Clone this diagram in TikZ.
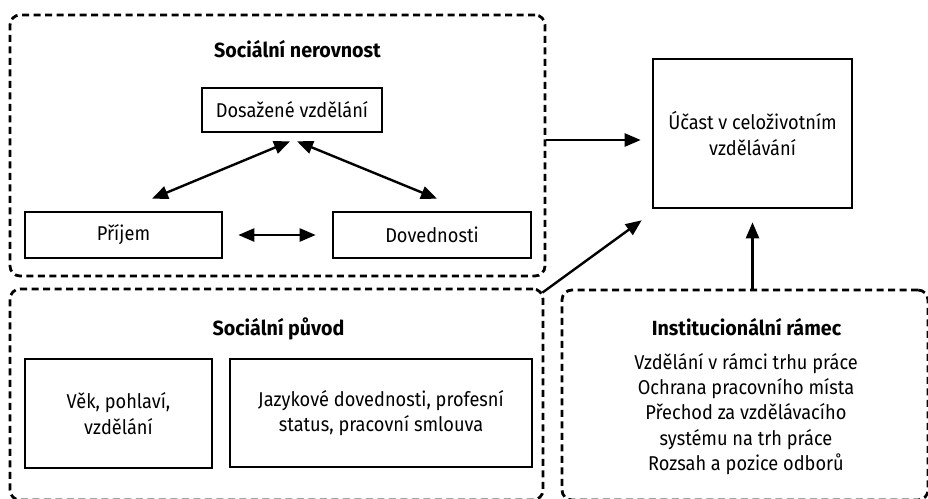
\documentclass[tikz,border=0pt]{standalone}
\usepackage{fontspec}
\setmainfont{Fira Sans}[FakeStretch=0.91, BoldFeatures={FakeStretch=0.96}]
\usetikzlibrary{arrows.meta}
\begin{document}
\begin{tikzpicture}[x=1pt,y=-1pt,
  font=\fontsize{20}{25.3}\selectfont,
  box/.style={draw, line width=2.6pt, inner sep=0pt, align=center},
  group/.style={draw, dash pattern=on 7pt off 4.5pt, line width=2.8pt,
    rounded corners=10pt, inner sep=0pt},
  heading/.style={font=\fontsize{20.5}{25}\selectfont\bfseries, anchor=base},
  arr/.style={-{Triangle[length=16pt,width=13pt]}, line width=2.4pt},
  biarr/.style={{Triangle[length=16pt,width=13pt]}-{Triangle[length=16pt,width=13pt]}, line width=2.4pt}]
\clip (0,0) rectangle (928,498);

% dashed groups
\node[group, minimum width=535pt, minimum height=261pt] (ineq) at (277.5,145.5) {};
\node[group, minimum width=533pt, minimum height=211pt] (origin) at (276.5,394.5) {};
\node[group, minimum width=366pt, minimum height=210pt] (inst) at (745,395) {};

% headings
\node[heading] (t1) at (297.5,57.5) {Sociální nerovnost};
\node[heading] (t2) at (278.5,335) {Sociální původ};
\node[heading] (t3) at (746.5,335) {Institucionální rámec};

% social inequality
\node[box, minimum width=180pt, minimum height=44pt] (dosaz) at (292,110) {Dosažené vzdělání};
\node[box, minimum width=197pt, minimum height=46pt] (prijem) at (123.5,235) {Příjem};
\node[box, minimum width=198pt, minimum height=46pt] (dov) at (432,235) {Dovednosti};

% social origin
\node[box, minimum width=187pt, minimum height=109pt] (vek) at (118.5,413.5) {Věk, pohlaví,\\vzdělání};
\node[box, minimum width=302pt, minimum height=108pt] (jazyk) at (381,413) {Jazykové dovednosti, profesní\\status, pracovní smlouva};

% outcome
\node[box, minimum width=199pt, minimum height=149pt] (ucast) at (752.5,133.5) {Účast v celoživotním\\vzdělávání};

% institutional framework
\node[align=center, inner sep=0pt] (list) at (746,414) {Vzdělání v rámci trhu práce\\Ochrana pracovního místa\\Přechod za vzdělávacího\\systému na trh práce\\Rozsah a pozice odborů};

% connectors
\draw[biarr] ([xshift=-2pt,yshift=-8pt]dosaz.south) -- ([xshift=28.5pt,yshift=12pt]prijem.north);
\draw[biarr] ([xshift=5pt,yshift=-8pt]dosaz.south) -- ([xshift=5pt,yshift=12pt]dov.north);
\draw[biarr, shorten <=15pt, shorten >=16pt] (prijem.east) -- (dov.west);
\draw[arr, shorten >=11pt] ([yshift=5.5pt]ineq.east) -- ([yshift=-6.5pt]ucast.west);
\draw[arr] ([xshift=-2pt,yshift=-5pt]origin.north east) -- ([xshift=-10pt,yshift=-11pt]ucast.south west);
\draw[arr] (ucast.south |- inst.north) -- ([yshift=-13pt]ucast.south);
\end{tikzpicture}
\end{document}
